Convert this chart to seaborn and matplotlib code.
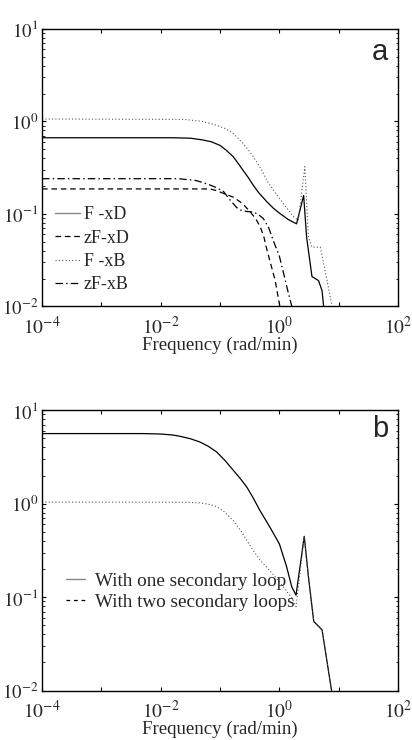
import numpy as np
import pandas as pd
import matplotlib
matplotlib.use("Agg")
import matplotlib.pyplot as plt
from matplotlib.lines import Line2D
from matplotlib.ticker import LogLocator, FixedLocator, FuncFormatter, NullLocator
import seaborn as sns

# ---------------- data ----------------
# panel a
fa_FxD = [1e-4, 0.0158, 0.0316, 0.05, 0.0708, 0.1, 0.126, 0.166, 0.2, 0.245, 0.302, 0.363,
          0.447, 0.617, 0.794, 1.0, 1.41, 1.95, 2.57, 2.88, 3.55, 4.57, 5.25, 5.62, 5.7]
ma_FxD = [0.665, 0.665, 0.658, 0.631, 0.603, 0.55, 0.49, 0.417, 0.355, 0.295, 0.245, 0.204,
          0.17, 0.135, 0.115, 0.102, 0.087, 0.078, 0.158, 0.056, 0.021, 0.019, 0.0148, 0.0095, 0.005]

fa_zFxD = [1e-4, 0.068, 0.089, 0.115, 0.17, 0.24, 0.324, 0.398, 0.479, 0.55, 0.617, 0.724,
           0.851, 1.02, 1.07]
ma_zFxD = [0.186, 0.186, 0.178, 0.166, 0.151, 0.129, 0.105, 0.089, 0.072, 0.056, 0.041, 0.028,
           0.019, 0.010, 0.008]

fa_FxB = [1e-4, 0.025, 0.05, 0.087, 0.126, 0.166, 0.2, 0.245, 0.302, 0.363, 0.50, 0.617, 0.851,
          1.17, 1.74, 2.09, 2.69, 3.09, 3.55, 4.9, 5.89, 7.76, 8.3]
ma_FxB = [1.06, 1.05, 1.0, 0.91, 0.83, 0.74, 0.661, 0.575, 0.49, 0.417, 0.302, 0.229, 0.17,
          0.129, 0.093, 0.085, 0.324, 0.056, 0.0437, 0.0437, 0.0245, 0.010, 0.008]

fa_zFxB = [1e-4, 0.02, 0.0398, 0.063, 0.089, 0.115, 0.148, 0.191, 0.219, 0.282, 0.363, 0.447,
           0.537, 0.661, 0.794, 1.0, 1.175, 1.38, 1.62, 1.74]
ma_zFxB = [0.24, 0.24, 0.229, 0.209, 0.191, 0.174, 0.141, 0.117, 0.11, 0.106, 0.105, 0.098,
           0.089, 0.071, 0.051, 0.035, 0.023, 0.015, 0.010, 0.008]

# panel b
fb_one = [1e-4, 0.005, 0.01, 0.0158, 0.0214, 0.0316, 0.0457, 0.063, 0.087, 0.12, 0.166, 0.219,
          0.282, 0.363, 0.468, 0.692, 1.0, 1.32, 1.62, 1.91, 2.63, 3.09, 3.80, 5.25, 7.59, 7.94]
mb_one = [5.62, 5.62, 5.56, 5.43, 5.25, 4.95, 4.57, 4.12, 3.59, 2.92, 2.29, 1.86,
          1.51, 1.15, 0.851, 0.562, 0.372, 0.214, 0.129, 0.105, 0.447, 0.166, 0.055, 0.0447,
          0.010, 0.008]

fb_two = [1e-4, 0.025, 0.0457, 0.063, 0.087, 0.12, 0.166, 0.219, 0.282, 0.363, 0.468, 0.631,
          0.794, 1.17, 1.62, 1.91, 2.63, 3.09, 3.80, 5.25, 7.59, 7.94]
mb_two = [1.04, 1.035, 1.02, 0.989, 0.933, 0.813, 0.661, 0.525, 0.407, 0.316, 0.251, 0.204,
          0.174, 0.129, 0.098, 0.079, 0.447, 0.166, 0.055, 0.0447, 0.010, 0.008]

labels_a = ["F -xD", "zF-xD", "F -xB", "zF-xB"]
labels_b = ["With one secondary loop", "With two secondary loops"]
xlabel = "Frequency (rad/min)"

# ---------------- style ----------------
sns.set_theme(style="ticks")
plt.rcParams["font.family"] = ["Liberation Serif", "DejaVu Serif"]
plt.rcParams["mathtext.fontset"] = "stix"
plt.rcParams["xtick.direction"] = "in"
plt.rcParams["ytick.direction"] = "in"

fig = plt.figure(figsize=(4.12, 7.40), dpi=100)
ax_a = fig.add_axes([0.102, 0.586, 0.864, 0.375])
ax_b = fig.add_axes([0.102, 0.0667, 0.864, 0.379])

solid = dict(color="black", lw=0.9, linestyle="-")
dashed = dict(color="black", lw=0.9, linestyle=(0, (4.5, 3)))
dotted = dict(color="#555555", lw=0.8, linestyle=(0, (1, 2)))
dashdot = dict(color="black", lw=0.9, linestyle=(0, (6, 2.5, 1.2, 2.5)))

def draw(ax, f, m, style):
    df = pd.DataFrame({"f": f, "m": m})
    sns.lineplot(data=df, x="f", y="m", ax=ax, sort=False, estimator=None, legend=False, **style)

draw(ax_a, fa_FxD, ma_FxD, solid)
draw(ax_a, fa_zFxD, ma_zFxD, dashed)
draw(ax_a, fa_FxB, ma_FxB, dotted)
draw(ax_a, fa_zFxB, ma_zFxB, dashdot)

draw(ax_b, fb_one, mb_one, solid)
draw(ax_b, fb_two, mb_two, dotted)

def fmt(v, pos):
    e = int(round(np.log10(v)))
    return r"$10^{%d}$" % e

for ax in (ax_a, ax_b):
    ax.set_xscale("log")
    ax.set_yscale("log")
    ax.set_xlim(1e-4, 1e2)
    ax.set_ylim(1e-2, 1e1)
    ax.xaxis.set_major_locator(FixedLocator([1e-4, 1e-3, 1e-2, 1e-1, 1e0, 1e1, 1e2]))
    ax.xaxis.set_major_formatter(FuncFormatter(
        lambda v, p: fmt(v, p) if int(round(np.log10(v))) % 2 == 0 else ""))
    ax.xaxis.set_minor_locator(NullLocator())
    ax.yaxis.set_major_locator(FixedLocator([1e-2, 1e-1, 1e0, 1e1]))
    ax.yaxis.set_major_formatter(FuncFormatter(fmt))
    ax.yaxis.set_minor_locator(LogLocator(base=10, subs=np.arange(2, 10)))
    ax.tick_params(which="both", top=True, right=True, direction="in", color="black")
    ax.tick_params(which="major", length=3, width=0.8)
    ax.tick_params(axis="x", which="major", pad=7, labelsize=14)
    ax.tick_params(axis="y", which="major", pad=2.5, labelsize=13.5)
    ax.tick_params(which="minor", length=1.8, width=0.6)
    for s in ax.spines.values():
        s.set_linewidth(1.0)
        s.set_color("black")
    ax.set_xlabel(xlabel, fontsize=13.6, labelpad=-1)
    ax.set_ylabel("")
    ax.grid(False)

ax_a.text(0.972, 0.968, "a", transform=ax_a.transAxes, ha="right", va="top",
          fontsize=21, family=["Liberation Sans", "DejaVu Sans"])
ax_b.text(0.972, 0.982, "b", transform=ax_b.transAxes, ha="right", va="top",
          fontsize=21, family=["Liberation Sans", "DejaVu Sans"])

handles_a = [Line2D([], [], color="#888888", lw=1.0, linestyle="-"),
             Line2D([], [], **dashed),
             Line2D([], [], **dotted),
             Line2D([], [], **dashdot)]
ax_a.legend(handles_a, labels_a, loc="lower left", bbox_to_anchor=(0.0, 0.002),
            frameon=False, fontsize=13, handlelength=1.4, handletextpad=0.2,
            labelspacing=0.35, borderaxespad=0.3)

handles_b = [Line2D([], [], color="#888888", lw=1.0, linestyle="-"),
             Line2D([], [], color="black", lw=0.9, linestyle=(0, (3, 3)))]
ax_b.legend(handles_b, labels_b, loc="lower left", bbox_to_anchor=(0.03, 0.236),
            frameon=False, fontsize=13.8, handlelength=1.0, handletextpad=0.5,
            labelspacing=0.2, borderaxespad=0.3)

fig.savefig("out.png", dpi=100)
